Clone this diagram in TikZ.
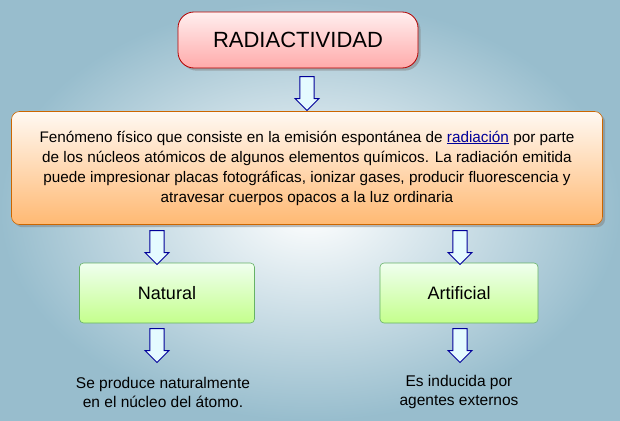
\documentclass[tikz,border=0pt]{standalone}
\usepackage{fontspec}
\setmainfont{Liberation Sans}
\usetikzlibrary{shapes.arrows,shadows}
\begin{document}
\begin{tikzpicture}[x=1pt,y=-1pt,
  darr/.style={single arrow,draw=blue!60!black,fill=blue!15!cyan!10,line width=0.9pt,minimum width=24pt,single arrow head extend=3pt,single arrow head indent=0pt,minimum height=34pt,rotate=-90,inner sep=4pt},
  greenbox/.style={draw=green!50!black!60,line width=0.6pt,top color=green!6,bottom color=green!35!lime!45,rounded corners=4pt,minimum height=60pt,font=\fontsize{18}{22}\selectfont},
  lbl/.style={align=center,font=\fontsize{15.5}{19}\selectfont}]
\shade[inner color=white,outer color=blue!30!cyan!35!gray!60] (0,0) rectangle (620,420);
\useasboundingbox (0,0) rectangle (620,420);
\node[draw=red!70!black,line width=0.8pt,rounded corners=16pt,top color=pink!25,bottom color=red!30!pink!70,minimum width=240pt,minimum height=56pt,font=\fontsize{22}{26}\selectfont,drop shadow] (t) at (298,40) {RADIACTIVIDAD};
\node[draw=orange!80!black,line width=0.6pt,rounded corners=8pt,top color=orange!5,bottom color=orange!55,minimum width=591pt,minimum height=113pt,align=center,font=\fontsize{15.3}{20}\selectfont,drop shadow] (d) at (307,168) {Fenómeno físico que consiste en la emisión espontánea de \textcolor{blue!60!black}{\underline{radiación}} por parte\\de los núcleos atómicos de algunos elementos químicos. La radiación emitida\\puede impresionar placas fotográficas, ionizar gases, producir fluorescencia y\\atravesar cuerpos opacos a la luz ordinaria};
\node[greenbox,minimum width=175pt] (n) at (167,293) {Natural};
\node[greenbox,minimum width=158pt] (a) at (459,293) {Artificial};
\node[lbl] (nt) at (163,392) {Se produce naturalmente\\en el núcleo del átomo.};
\node[lbl] (at) at (459,392) {Es inducida por\\agentes externos};
\node[darr] (a1) at (307,90) {};
\node[darr] (a2) at (157,244) {};
\node[darr] (a3) at (460,244) {};
\node[darr] (a4) at (157,342) {};
\node[darr] (a5) at (460,342) {};
\end{tikzpicture}
\end{document}
